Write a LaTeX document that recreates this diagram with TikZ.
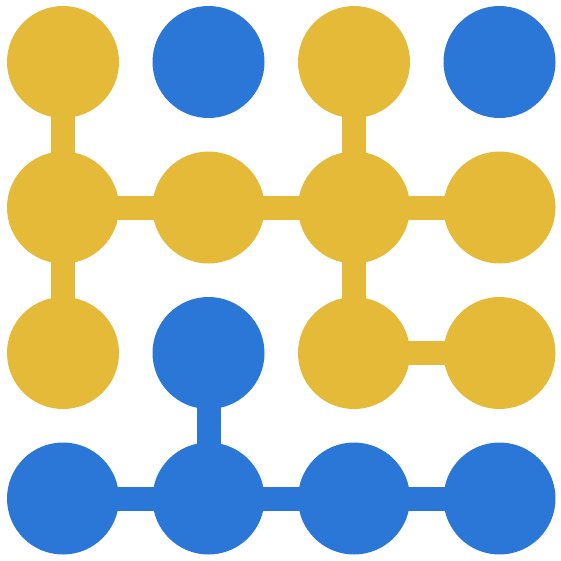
\documentclass[tikz,border=0pt]{standalone}
\usetikzlibrary{backgrounds}
\definecolor{gold}{HTML}{E4BA38}
\definecolor{azure}{HTML}{2A77D7}

\begin{document}
\begin{tikzpicture}[
  dot/.style={circle, minimum size=2.8cm, inner sep=0pt, fill=#1},
  link/.style={line width=0.6cm, #1}
]
  \useasboundingbox (0,0) rectangle (14.025,-14.025);
  % grid of dots, row 1 at the top
  \foreach \r/\c/\clr in {1/1/gold,1/2/azure,1/3/gold,1/4/azure,
                          2/1/gold,2/2/gold,2/3/gold,2/4/gold,
                          3/1/gold,3/2/azure,3/3/gold,3/4/gold,
                          4/1/azure,4/2/azure,4/3/azure,4/4/azure}{
    \node[dot=\clr] (d\r\c) at ({1.575+3.6375*(\c-1)}, {-1.55-3.6375*(\r-1)}) {};
  }
  \begin{scope}[on background layer]
    \foreach \a/\b in {d11/d21,d21/d31,d21/d22,d22/d23,d23/d24,d13/d23,d23/d33,d33/d34}{
      \draw[link=gold] (\a.center) -- (\b.center);
    }
    \foreach \a/\b in {d32/d42,d41/d42,d42/d43,d43/d44}{
      \draw[link=azure] (\a.center) -- (\b.center);
    }
  \end{scope}
\end{tikzpicture}
\end{document}
